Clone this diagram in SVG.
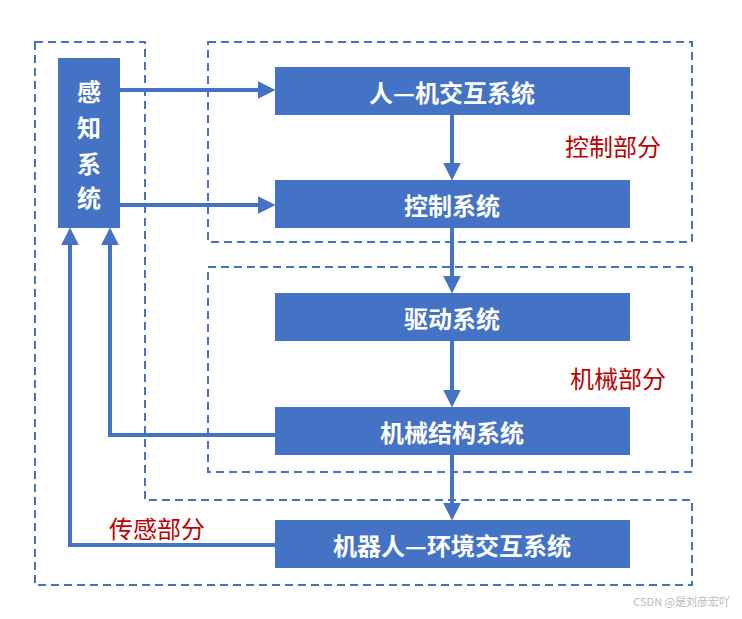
<svg xmlns="http://www.w3.org/2000/svg" width="742" height="619" viewBox="0 0 742 619">
<style>
.d{fill:none;stroke:#4472C4;stroke-width:2;stroke-dasharray:8,5}
.b{fill:#4472C4}
.t{fill:#fff;font-family:"Noto Sans CJK SC",sans-serif;font-size:24px;font-weight:bold;text-anchor:middle;dominant-baseline:central}
.r{fill:#C00000;font-family:"Noto Sans CJK SC",sans-serif;font-size:24px;text-anchor:middle;dominant-baseline:central}
.c{fill:none;stroke:#4472C4;stroke-width:4;marker-end:url(#a)}
</style>
<defs><marker id="a" viewBox="0 0 10 10" refX="8" refY="5" markerWidth="4.5" markerHeight="4.5" orient="auto" markerUnits="strokeWidth"><path d="M0,0L10,5L0,10z" fill="#4472C4"/></marker></defs>
<rect width="742" height="619" fill="#fff"/>
<g id="regions">
<path class="d" d="M35,42H145V500H692V585H35Z"/>
<rect class="d" x="208" y="42" width="484" height="200"/>
<rect class="d" x="208" y="267" width="484" height="205"/>
</g>
<g id="connectors">
<path class="c" d="M120,90H272"/>
<path class="c" d="M120,205H272"/>
<path class="c" d="M452,115V177"/>
<path class="c" d="M452,228V290"/>
<path class="c" d="M452,341V404"/>
<path class="c" d="M452,455V517"/>
<path class="c" d="M275,435H110V231"/>
<path class="c" d="M275,545H70V231"/>
</g>
<g id="perception"><rect class="b" x="58" y="58" width="62" height="170"/>
<text class="t" x="89" y="90">感</text><text class="t" x="89" y="126">知</text><text class="t" x="89" y="162">系</text><text class="t" x="89" y="196">统</text></g>
<g id="hmi"><rect class="b" x="275" y="67" width="355" height="48"/><text class="t" x="452" y="91">人—机交互系统</text></g>
<g id="control"><rect class="b" x="275" y="180" width="355" height="48"/><text class="t" x="452" y="204">控制系统</text></g>
<g id="drive"><rect class="b" x="275" y="293" width="355" height="48"/><text class="t" x="452" y="317">驱动系统</text></g>
<g id="mech"><rect class="b" x="275" y="407" width="355" height="48"/><text class="t" x="452" y="431">机械结构系统</text></g>
<g id="env"><rect class="b" x="275" y="520" width="355" height="48"/><text class="t" x="452" y="544">机器人—环境交互系统</text></g>
<g id="labels">
<text class="r" x="613" y="145">控制部分</text>
<text class="r" x="618" y="377">机械部分</text>
<text class="r" x="157" y="527">传感部分</text>
<text x="730" y="606" fill="#bbb" font-family="'Noto Sans CJK SC',sans-serif" font-size="11" text-anchor="end">CSDN @是刘彦宏吖</text>
</g>
</svg>
